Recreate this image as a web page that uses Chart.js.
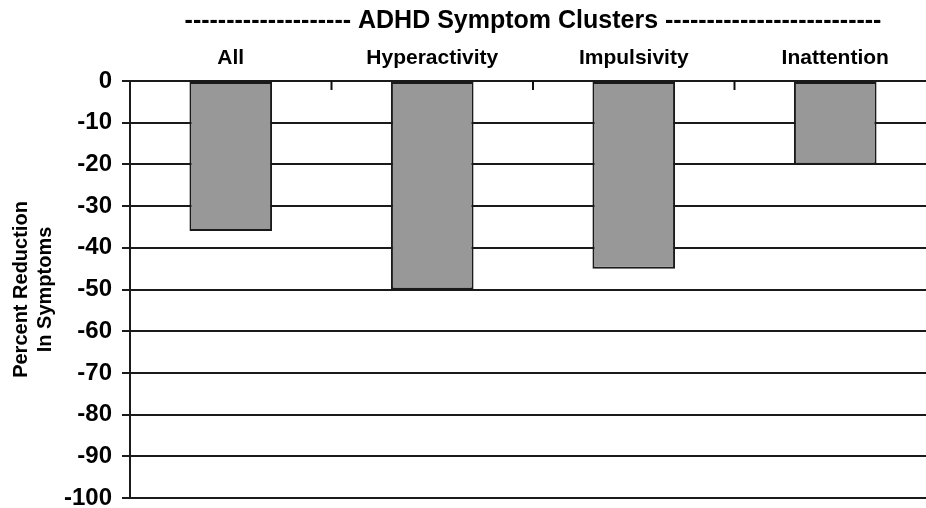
<!DOCTYPE html>
<html>
<head>
<meta charset="utf-8">
<script src="https://cdn.jsdelivr.net/npm/chart.js@4.4.1/dist/chart.umd.min.js"></script>
<style>
  html, body { margin: 0; padding: 0; background: #fff; overflow: hidden; }
  #wrap { width: 940px; height: 508px; }
</style>
</head>
<body>
<div id="wrap"><canvas id="myChart"></canvas></div>
<script>
let clusters = ["All", "Hyperactivity", "Impulsivity", "Inattention"];
let reduction = [-36, -50, -45, -20];
let yTitle = ["Percent Reduction", "In Symptoms"];
let chartTitle = "-------------------- ADHD Symptom Clusters --------------------------";

// small tick marks between categories, pointing down into the plot
const innerTicks = {
  id: 'innerTicks',
  afterDatasetsDraw(chart) {
    const x = chart.scales.x;
    const top = chart.chartArea.top;
    const c = chart.ctx;
    c.save();
    c.strokeStyle = '#111';
    c.lineWidth = 2;
    for (let i = 1; i < clusters.length; i++) {
      const px = (x.getPixelForValue(i - 1) + x.getPixelForValue(i)) / 2;
      c.beginPath();
      c.moveTo(px, top);
      c.lineTo(px, top + 9);
      c.stroke();
    }
    c.restore();
  }
};

Chart.defaults.font.family = "'Liberation Sans', Arial, sans-serif";
Chart.defaults.color = '#000';

let ctx = document.getElementById('myChart').getContext('2d');
const myChart = new Chart(ctx, {
  type: 'bar',
  data: {
    labels: clusters,
    datasets: [{
      data: reduction,
      backgroundColor: '#989898',
      borderColor: '#1a1a1a',
      borderWidth: 2,
      borderSkipped: false,
      barPercentage: 0.41,
      categoryPercentage: 1
    }]
  },
  options: {
    responsive: true,
    maintainAspectRatio: false,
    animation: false,
    layout: { padding: { left: 0, right: 4, top: 0, bottom: 10 } },
    plugins: {
      legend: { display: false },
      tooltip: { enabled: false },
      title: {
        display: true,
        text: chartTitle,
        fullSize: false,
        font: { size: 25, weight: 'bold' },
        color: '#000',
        padding: { top: 6, bottom: 10 }
      }
    },
    scales: {
      x: {
        position: 'top',
        grid: { display: false, drawTicks: false },
        border: { display: false },
        ticks: { font: { size: 21, weight: 'bold' }, color: '#000', padding: 10 },
        afterFit: function (scale) { scale.height = 35; }
      },
      y: {
        min: -100,
        max: 0,
        ticks: { stepSize: 10, font: { size: 24, weight: 'bold' }, color: '#000', padding: 10 },
        grid: { color: '#1a1a1a', lineWidth: 2, tickLength: 8 },
        border: { display: true, color: '#1a1a1a', width: 2 },
        title: {
          display: true,
          text: yTitle,
          font: { size: 20, weight: 'bold' },
          lineHeight: 1.05,
          color: '#000',
          padding: { top: 9, bottom: 4 }
        },
        afterFit: function (scale) {
          scale.width = 130;
          scale.paddingTop = 0;
          scale.paddingBottom = 0;
        }
      }
    }
  },
  plugins: [innerTicks]
});
</script>
</body>
</html>
